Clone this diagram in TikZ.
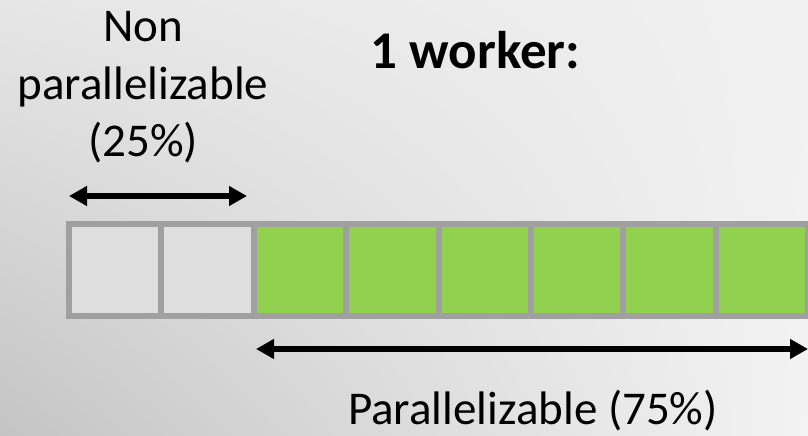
\documentclass[tikz,border=0pt]{standalone}
\usepackage{fontspec}
\setmainfont{Carlito}
\usetikzlibrary{arrows.meta,shadings}
\definecolor{cellgray}{HTML}{DEDEDE}
\definecolor{cellgreen}{HTML}{92D050}
\definecolor{cellborder}{HTML}{A0A0A0}
\definecolor{bgUL}{HTML}{E6E6E6}
\definecolor{bgUR}{HTML}{F1F1F1}
\definecolor{bgLL}{HTML}{C4C4C4}
\definecolor{bgLR}{HTML}{F3F3F3}
\tikzset{
  cell/.style={draw=cellborder, line width=6pt, minimum width=92.375pt,
    minimum height=92pt, inner sep=0pt, outer sep=0pt, anchor=center},
  serialcell/.style={cell, fill=cellgray},
  parcell/.style={cell, fill=cellgreen},
  span/.style={line width=5.5pt, {Triangle[length=18pt,width=19pt]}-{Triangle[length=18pt,width=19pt]}},
  label/.style={anchor=base, inner sep=0pt, font=\fontsize{47}{56}\selectfont},
  title/.style={anchor=base, inner sep=0pt, font=\fontsize{53}{60}\selectfont\bfseries}
}
\begin{document}
\begin{tikzpicture}[x=1pt,y=-1pt]
  % page and soft background
  \useasboundingbox (0,0) rectangle (808,436);
  \shade[upper left=bgUL, upper right=bgUR, lower left=bgLL, lower right=bgLR]
    (0,0) rectangle (808,436);

  % the work bar: 2 serial cells, 6 parallel cells
  \foreach \i in {0,1}
    \node[serialcell] (c\i) at ({69+92.375*(\i+0.5)},270) {};
  \foreach \i in {2,...,7}
    \node[parcell] (c\i) at ({69+92.375*(\i+0.5)},270) {};

  % span arrows
  \coordinate (sA) at (69,196);
  \coordinate (sB) at (247,196);
  \coordinate (pA) at (256,349);
  \coordinate (pB) at (808,349);
  \draw[span] (sA) -- (sB);
  \draw[span] (pA) -- (pB);

  % labels
  \node[label] (n1) at (143,42) {Non};
  \node[label] (n2) at (143,99) {parallelizable};
  \node[label] (n3) at (143,156) {(25\%)};
  \node[title] (t) at (475.5,68) {1 worker:};
  \node[label] (p) at (533,424) {Parallelizable (75\%)};
\end{tikzpicture}
\end{document}
